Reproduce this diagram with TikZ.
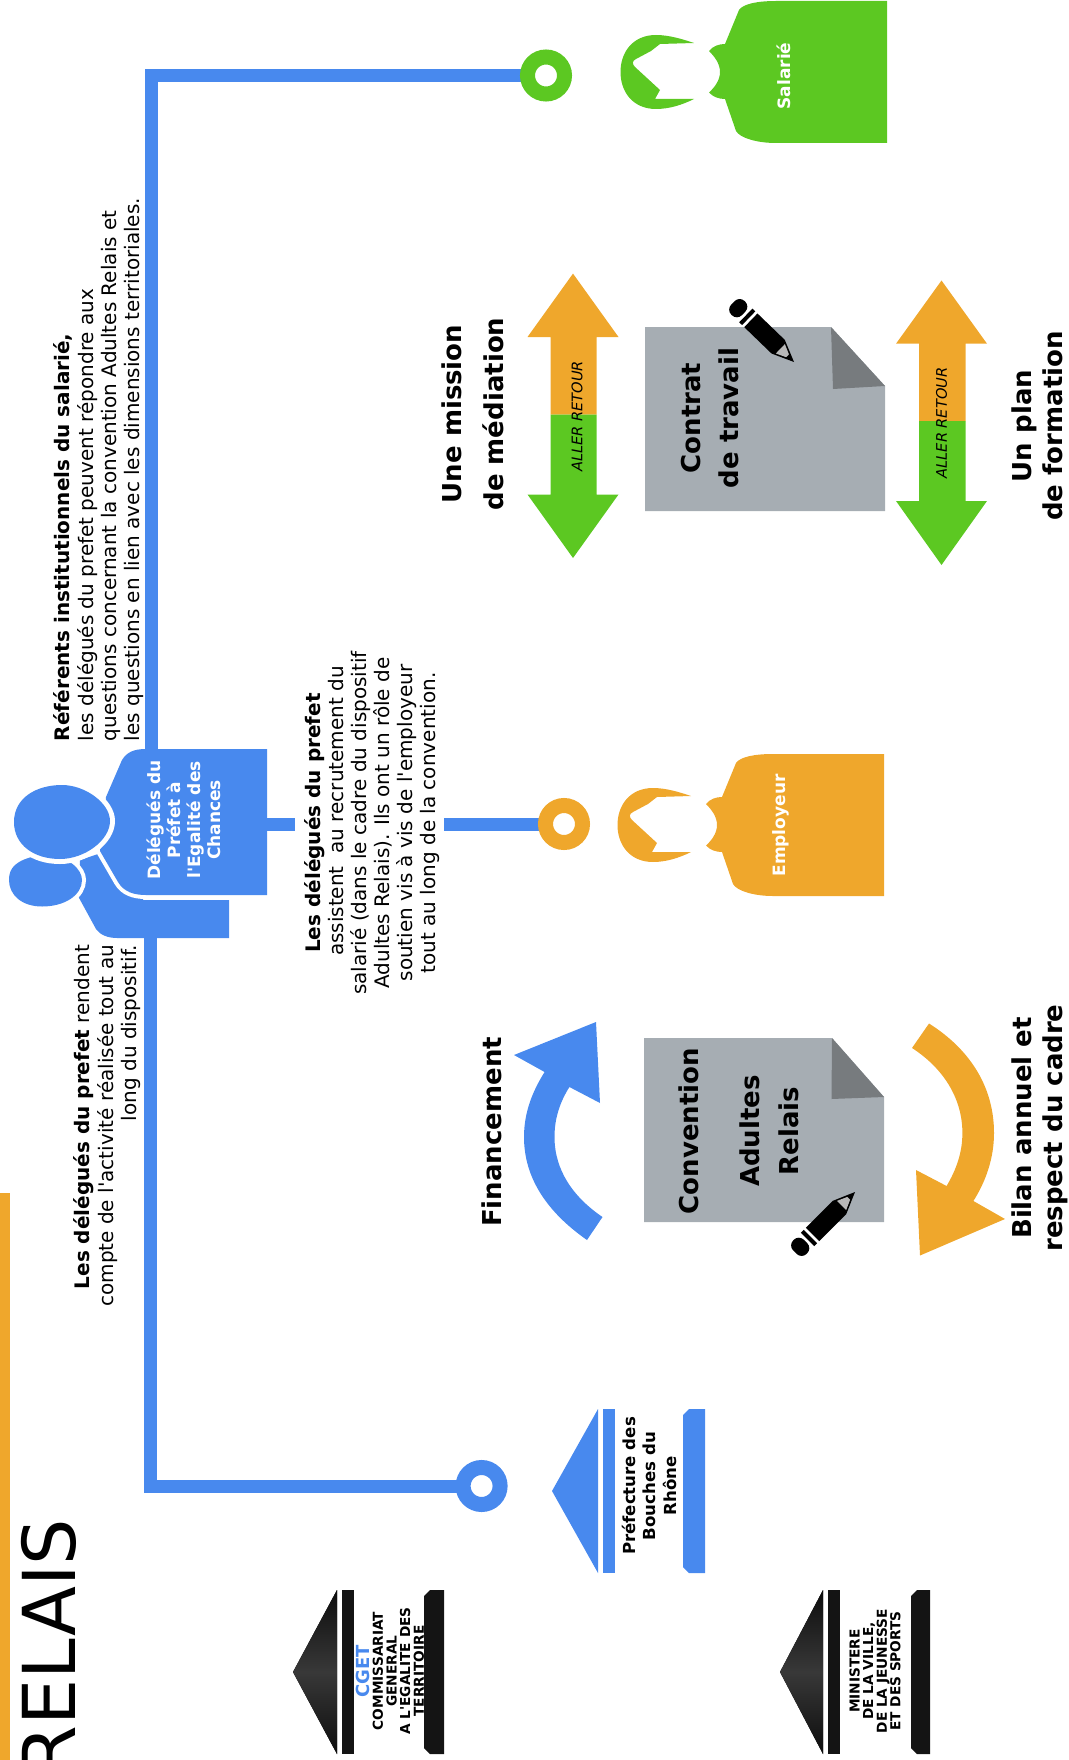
\documentclass[tikz,border=0pt]{standalone}
\usepackage{fontspec}
\defaultfontfeatures[\rmfamily]{}
\setmainfont{DejaVu Sans}
\usetikzlibrary{calc}
\definecolor{bluem}{HTML}{4889EE}
\definecolor{orangem}{HTML}{EFA72C}
\definecolor{greenm}{HTML}{5CC822}
\definecolor{greym}{HTML}{A6ADB3}
\definecolor{greyd}{HTML}{777B7E}
\pgfdeclarelayer{front}
\pgfsetlayers{main,front}
\tikzset{
  bar/.style={draw=bluem,line width=13pt,miter limit=10},
  ring/.style={circle,draw=#1,fill=white,line width=15pt,minimum size=37pt,inner sep=0pt,outer sep=0pt},
  halo/.style={fill=#1,preaction={draw=white,line width=8pt}},
  rot/.style={rotate=90,inner sep=0pt,outer sep=0pt},
  para/.style={rot,font=\fontsize{20}{23.1}\selectfont},
  big/.style={rot,align=center,font=\fontsize{26}{31}\selectfont\bfseries},
  lab/.style={rot,align=center,text=white,font=\fontsize{17}{20}\selectfont\bfseries},
  logo/.style={rot,align=center,font=\fontsize{13.7}{13.6}\selectfont\bfseries},
  aller/.style={rot,font=\fontsize{14.6}{18}\selectfont\itshape},
  dark/.style={top color=black!95,bottom color=black!95,middle color=black!78},
  darkb/.style={fill=black!92},
}
\newcommand\personfig[6]{% x,y,colour,name,label offset,label
  \begin{scope}[shift={(#1,#2)}]
    \fill[#3] (0,-71) -- (-111,-71) .. controls (-130,-71) and (-144,-68) .. (-148,-62) -- (-162,-28)
      .. controls (-168,-28) and (-174,-26) .. (-178,-21) .. controls (-172,-15) and (-167,-8) .. (-167,0)
      .. controls (-167,8) and (-172,15) .. (-178,20.5) .. controls (-174,25) and (-168,27) .. (-162,27)
      -- (-151,59) .. controls (-147,66) and (-130,71) .. (-111,71) -- (0,71) -- cycle;
    \fill[#3] (-193,-29) .. controls (-205,-33) and (-218,-37) .. (-231,-37)
      .. controls (-254,-37) and (-266.5,-20) .. (-266.5,0) .. controls (-266.5,20) and (-254,37) .. (-231,37)
      .. controls (-218,37) and (-205,33) .. (-193,27) -- (-232,27) -- (-227,18) -- (-252,-5)
      .. controls (-255,-8) and (-255,-11) .. (-251,-13) -- (-236,-21) -- (-227,-28) -- cycle;
    \node[lab] (#4) at (-103,#5) {#6};
  \end{scope}}
\newcommand\pencilfig[3]{% x,y,angle
  \begin{scope}[shift={(#1,#2)},rotate=#3]
    \fill[black] (0,0) -- (22,-9.5) -- (60,-9.5) -- (60,9.5) -- (22,9.5) -- cycle;
    \fill[black!28] (9,-2) -- (19,-6.5) -- (19,6.5) -- (9,2) -- cycle;
    \fill[black] (63,-9.5) rectangle (67,9.5);
    \fill[black,rounded corners=7pt] (70,-9.5) -- (85,-9.5) -- (85,9.5) -- (70,9.5) -- cycle;
  \end{scope}}
\newcommand\templefig[9]{% tip x,tip y,base x of roof,strip x0,strip x1,base x0,base x1,roof style,bar style
  \fill[#8] (#1,#2) -- (#3,#2-82) -- (#3,#2+82) -- cycle;
  \fill[#9] (#4,#2-82) rectangle (#5,#2+82);
  \fill[#9] (#6,#2-76) -- (#6+6,#2-82) -- (#7,#2-82) -- (#7,#2+82) -- (#6+6,#2+82) -- (#6,#2+76) -- cycle;}
\begin{document}
\begin{tikzpicture}[x=1pt,y=-1pt]
\useasboundingbox (0,0) rectangle (1068,1760);
% end-point rings
\begin{pgfonlayer}{front}
  \node[ring=greenm] (nsal) at (546,75.5) {};
  \node[ring=orangem] (nemp) at (564,824) {};
  \node[ring=bluem] (npre) at (481.6,1486) {};
\end{pgfonlayer}
% orange edge bar and title
\fill[orangem] (0,1193) rectangle (9.5,1760);
\node[rot,anchor=base east,font=\fontsize{73}{80}\selectfont] (title) at (75,1519) {RELAIS};
% delegates person
\fill[bluem] (80,860) -- (110,850) -- (143,895) -- (143,900) -- (229,900) -- (229,938) -- (117,938)
  .. controls (108,938) and (100,935) .. (96,929) -- (78,896) -- cycle;
\path[halo=bluem] (9,880) .. controls (9,868) and (15,860) .. (40,855) .. controls (70,855) and (82,870) .. (82,880)
  .. controls (82,895) and (65,906.5) .. (42,906.5) .. controls (22,906.5) and (9,895) .. cycle;
\path[halo=bluem] (267,749) -- (146,749) .. controls (134,749) and (127,752) .. (122,760) -- (106,797) -- (100,851)
  -- (118,882) .. controls (124,892) and (134,895) .. (146,895) -- (267,895) -- cycle;
\path[fill=bluem,preaction={draw=white,line width=10pt}] (14,822) .. controls (14,798) and (36,785) .. (62,785)
  .. controls (85,785) and (110,803) .. (110,821) .. controls (110,840) and (85,859) .. (60,859)
  .. controls (34,859) and (14,845) .. cycle;
\node[lab] (deleg) at (184,820) {Délégués du\\Préfet à\\l'Egalité des\\Chances};
\coordinate (dtop) at (151.5,755);
\coordinate (dbot) at (150.5,932);
\coordinate (dright) at (260,824);
\coordinate (mida) at (295,824);
\coordinate (midb) at (444,824);
% connectors
\draw[bar] (dtop) |- (nsal.center);
\draw[bar] (dbot) |- (npre.center);
\draw[bar] (dright) -- (mida);
\draw[bar] (midb) -- (nemp.center);
% persons
\personfig{884}{825}{orangem}{lemp}{0.5}{Employeur}
\personfig{887}{72}{greenm}{lsal}{4}{Salarié}
% paragraphs
\node[para,anchor=north west,align=left] (tref) at (54,741) {\textbf{Référents institutionnels du salarié,}\\les délégués du prefet peuvent répondre aux\\questions concernant la convention Adultes Relais et\\les questions en lien avec les dimensions territoriales.};
\node[para,anchor=north east,align=right] (tdel) at (74,945) {\textbf{Les délégués du prefet} rendent\\compte de l'activité réalisée tout au\\long du dispositif.};
\node[para,align=center] (tmid) at (372,823) {\textbf{Les délégués du prefet}\\\hspace*{24pt}assistent\ \ au recrutement du\\salarié (dans le cadre du dispositif\\Adultes Relais). Ils ont un rôle de\\soutien vis à vis de l'employeur\\tout au long de la convention.};
% Convention sheet
\fill[greym] (644,1038) -- (832,1038) -- (884,1097) -- (884,1222) -- (644,1222) -- cycle;
\fill[greyd] (832,1038) -- (884,1097) -- (831.5,1099) -- cycle;
\node[big] (tconv) at (739,1131) {Convention\\[30pt]Adultes\\[8pt]Relais};
\pencilfig{855}{1192}{225}
% Contract sheet
\fill[greym] (645,327) -- (831,327) -- (885,386) -- (885,511) -- (645,511) -- cycle;
\fill[greyd] (831,327) -- (885,386) -- (833,389) -- cycle;
\node[big,font=\fontsize{26}{38}\selectfont\bfseries] (tcon) at (710,418) {Contrat\\de travail};
\pencilfig{794}{362}{136}
% Curved arrows
\fill[bluem] (587,1240) .. controls (547,1212) and (524,1178) .. (524,1137) .. controls (524,1113) and (532,1092) .. (544.6,1072)
  -- (514,1055) -- (596,1022) -- (600,1103) -- (569.4,1087)
  .. controls (560,1102) and (554.5,1118) .. (554.5,1137) .. controls (554.5,1170) and (573,1197) .. (602.5,1217) -- cycle;
\fill[orangem] (929,1023.5) .. controls (971,1050) and (994,1088) .. (994,1133) .. controls (994,1158) and (986,1181) .. (973.4,1201)
  -- (1005,1219) -- (920,1255.5) -- (916,1170) -- (946.6,1186)
  .. controls (956,1170) and (962.4,1153) .. (962.4,1133) .. controls (962.4,1098) and (943,1068) .. (912,1048) -- cycle;
\node[big] (tfin) at (492,1132) {Financement};
\node[big] (tbil) at (1040,1128) {Bilan annuel et\\respect du cadre};
% Double arrows
\fill[orangem] (573,273.6) -- (618.5,337) -- (596.5,337) -- (596.5,414.5) -- (550.5,414.5) -- (550.5,337) -- (527.5,337) -- cycle;
\fill[greenm] (550.5,414.5) -- (596.5,414.5) -- (596.5,494.5) -- (618.5,494.5) -- (573,558) -- (527.5,494.5) -- (550.5,494.5) -- cycle;
\fill[orangem] (941.5,280.5) -- (987,343.7) -- (965.5,343.7) -- (965.5,421) -- (919,421) -- (919,343.7) -- (896,343.7) -- cycle;
\fill[greenm] (919,421) -- (965.5,421) -- (965.5,501) -- (987,501) -- (941.5,565) -- (896,501) -- (919,501) -- cycle;
\node[aller] (al1) at (577,416.5) {ALLER RETOUR};
\node[aller] (al2) at (941.5,423) {ALLER RETOUR};
\node[big,font=\fontsize{26}{41.5}\selectfont\bfseries] (tmed) at (473,414) {Une mission\\de médiation};
\node[big] (tpla) at (1037,426) {Un plan\\de formation};
% temples
\templefig{552}{1491}{598}{603}{615}{683}{705}{fill=bluem}{fill=bluem}
\node[lab,text=black,font=\fontsize{16.6}{20.5}\selectfont\bfseries] (tpre) at (649,1486) {Préfecture des\\Bouches du\\Rhône};
\templefig{293}{1672}{337}{342}{354}{424}{444}{dark}{darkb}
\node[logo] (tcg) at (390,1671) {\textcolor{bluem}{\fontsize{18}{13.6}\selectfont CGET}\\COMMISSARIAT\\GENERAL\\A L'EGALITE DES\\TERRITOIRE};
\templefig{780}{1672}{823}{828}{840}{911}{930}{dark}{darkb}
\node[logo] (tmi) at (875,1671) {MINISTERE\\DE LA VILLE,\\DE LA JEUNESSE\\ET DES SPORTS};
\end{tikzpicture}
\end{document}
